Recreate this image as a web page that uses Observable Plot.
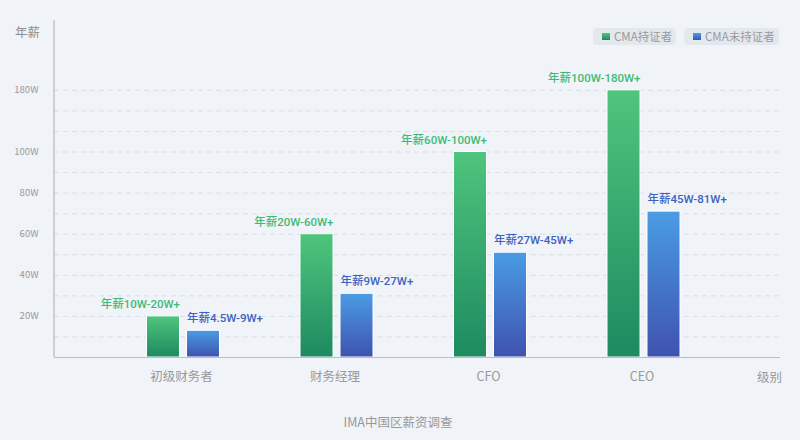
<!DOCTYPE html>
<html><head><meta charset="utf-8">
<script src="https://cdn.jsdelivr.net/npm/d3@7"></script>
<script src="https://cdn.jsdelivr.net/npm/@observablehq/plot@0.6"></script>
<style>
html,body{margin:0;padding:0;background:#F0F3F8;}
#wrap{position:relative;width:800px;height:440px;font-family:"Noto Sans CJK SC","Noto Sans",sans-serif;}
#wrap svg{position:absolute;left:0;top:0;background:transparent;}
.ov{position:absolute;color:#8f8f8f;white-space:nowrap;line-height:1;}
.lg{position:absolute;top:28px;height:17px;background:#E3E8EE;border-radius:4px;font-size:11.5px;color:#9a9a9a;line-height:17px;}
.lg i{position:absolute;top:5px;width:8px;height:7px;}
</style></head>
<body><div id="wrap"></div>
<script>
const categories = ["初级财务者", "财务经理", "CFO", "CEO"];
const certifiedValues = [20, 60, 100, 130];
const uncertifiedValues = [13, 31, 51, 71];
const certifiedLabels = ["年薪10W-20W+", "年薪20W-60W+", "年薪60W-100W+", "年薪100W-180W+"];
const uncertifiedLabels = ["年薪4.5W-9W+", "年薪9W-27W+", "年薪27W-45W+", "年薪45W-81W+"];
const yTickValues = [20, 40, 60, 80, 100, 130];
const yTickLabels = ["20W", "40W", "60W", "80W", "100W", "180W"];
const gridValues = [10, 20, 30, 40, 50, 60, 70, 80, 90, 100, 110, 120, 130];
const seriesNames = ["CMA持证者", "CMA未持证者"];

const green = categories.map((c, i) => ({cat: c, value: certifiedValues[i], label: certifiedLabels[i]}));
const blue = categories.map((c, i) => ({cat: c, value: uncertifiedValues[i], label: uncertifiedLabels[i]}));

const defs = () => {
  const s = d3.create("svg:defs");
  const g1 = s.append("linearGradient").attr("id", "gGreen").attr("x1", 0).attr("y1", 0).attr("x2", 0).attr("y2", 1);
  g1.append("stop").attr("offset", "0%").attr("stop-color", "#4FC57D");
  g1.append("stop").attr("offset", "100%").attr("stop-color", "#1E8A60");
  const g2 = s.append("linearGradient").attr("id", "gBlue").attr("x1", 0).attr("y1", 0).attr("x2", 0).attr("y2", 1);
  g2.append("stop").attr("offset", "0%").attr("stop-color", "#4A9CE4");
  g2.append("stop").attr("offset", "100%").attr("stop-color", "#3F52B0");
  return s.node();
};
const leftAxis = (index, scales, values, dims) => {
  return d3.create("svg:line")
    .attr("x1", dims.marginLeft).attr("x2", dims.marginLeft)
    .attr("y1", dims.marginTop).attr("y2", dims.height - dims.marginBottom)
    .attr("stroke", "#ABABAB").attr("stroke-width", 1).node();
};
const labelFont = 'Roboto,"Noto Sans CJK SC",sans-serif';

const chart = Plot.plot({
  width: 800, height: 440,
  marginLeft: 54, marginRight: 20, marginTop: 20, marginBottom: 83,
  style: {fontFamily: '"Noto Sans CJK SC","Noto Sans",sans-serif', background: "transparent"},
  x: {type: "band", domain: categories, range: [66, 760.5], padding: 0.5244, round: false, axis: null},
  y: {domain: [0, 164], axis: null},
  marks: [
    defs,
    Plot.ruleY(gridValues, {stroke: "#D9DEE5", strokeDasharray: "5,4"}),
    Plot.barY(green, {x: "cat", y: "value", fill: "url(#gGreen)", stroke: "white", strokeWidth: 1, insetRight: 40}),
    Plot.barY(blue, {x: "cat", y: "value", fill: "url(#gBlue)", stroke: "white", strokeWidth: 1, insetLeft: 40}),
    Plot.text(green, {x: "cat", y: "value", text: "label", dx: -3.5, dy: -12, textAnchor: "end", fill: "#3DBB76", fontSize: 11.5, fontFamily: labelFont, fontWeight: 500}),
    Plot.text(blue, {x: "cat", y: "value", text: "label", dx: 3.5, dy: -12, textAnchor: "start", fill: "#3D62BF", fontSize: 11.5, fontFamily: labelFont, fontWeight: 500}),
    Plot.axisY({ticks: yTickValues, tickFormat: d => yTickLabels[yTickValues.indexOf(d)], tickSize: 0, tickPadding: 16, fontSize: 9.5, color: "#9a9a9a", label: null}),
    Plot.axisX({tickSize: 0, tickPadding: 15, fontSize: 12.5, color: "#999", label: null, dx: -2}),
    Plot.ruleY([0], {stroke: "#BDBDBD"}),
    leftAxis
  ]
});
const wrap = document.getElementById("wrap");
wrap.appendChild(chart);

function addText(txt, css, cls) {
  const d = document.createElement("div");
  d.className = cls || "ov";
  d.textContent = txt;
  Object.assign(d.style, css);
  wrap.appendChild(d);
  return d;
}
addText("年薪", {left: "15px", top: "26px", fontSize: "12.5px"});
addText("级别", {left: "757px", top: "371px", fontSize: "12.5px", color: "#999"});
addText("IMA中国区薪资调查", {left: "0px", width: "796px", textAlign: "center", top: "416px", fontSize: "12.5px", color: "#999"});

const legendDefs = [
  {left: 593, width: 83, grad: "linear-gradient(#4FC57D,#1E8A60)"},
  {left: 684, width: 95, grad: "linear-gradient(#4A9CE4,#3F52B0)"}
];
legendDefs.forEach((l, i) => {
  const b = document.createElement("div");
  b.className = "lg";
  b.style.left = l.left + "px";
  b.style.width = l.width + "px";
  const sq = document.createElement("i");
  sq.style.left = "9px";
  sq.style.background = l.grad;
  b.appendChild(sq);
  const t = document.createElement("span");
  t.style.position = "absolute";
  t.style.left = "21px";
  t.textContent = seriesNames[i];
  b.appendChild(t);
  wrap.appendChild(b);
});
</script></body></html>
